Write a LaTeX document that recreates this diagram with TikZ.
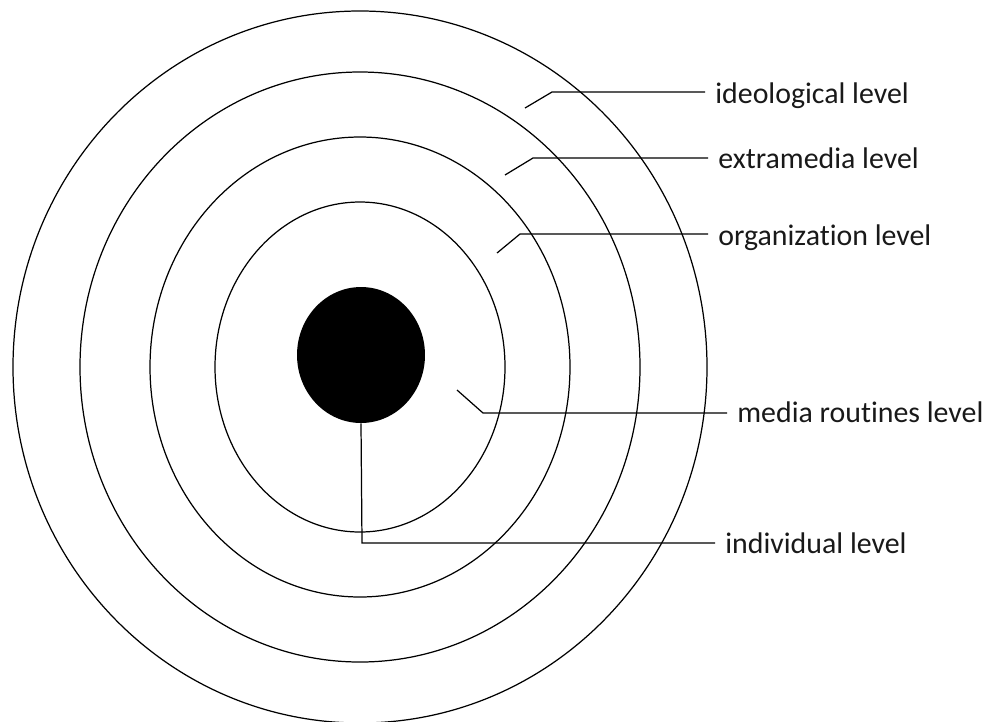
\documentclass[tikz,border=0pt]{standalone}
\usepackage{fontspec}
\setmainfont{Carlito}[Ligatures=NoCommon]
\usetikzlibrary{positioning, calc, shapes.geometric}
\definecolor{labelgray}{RGB}{25,25,25}

\begin{document}
\begin{tikzpicture}[x=0.02cm, y=-0.02cm,
  ring/.style={line width=0.7pt},
  leader/.style={line width=0.7pt},
  levellabel/.style={anchor=base west, inner xsep=0.2cm, inner ysep=0pt,
      font=\fontsize{17}{20}\selectfont, text=labelgray}]
\useasboundingbox (0,0) rectangle (1000,721);

% rings of influence
\coordinate (c) at (360,367);
\foreach \rx/\ry in {347/356, 280/295, 210/230, 145/165}
  \draw[ring] (c) ellipse [x radius=\rx, y radius=\ry];
\node[ellipse, fill=black, inner sep=0pt, minimum width=2.56cm, minimum height=2.72cm] (core) at (361,355) {};

% labels
\node[levellabel] (ideo) at (705,103) {ideological level};
\node[levellabel] (extra) at (708,168) {extramedia level};
\node[levellabel] (org) at (708,245) {organization level};
\node[levellabel] (routines) at (727,422) {media routines level};
\node[levellabel] (indiv) at (715,553) {individual level};

% leaders
\coordinate (ideo-s) at (525,108);   \coordinate (ideo-b) at (552,92);
\coordinate (extra-s) at (505,175);  \coordinate (extra-b) at (533,158);
\coordinate (org-s) at (497,253);    \coordinate (org-b) at (520,234);
\coordinate (routines-s) at (457,390); \coordinate (routines-b) at (483,413);
\coordinate (indiv-b) at (362,543);
\draw[leader] (ideo-s) -- (ideo-b) -- (ideo-b -| ideo.west);
\draw[leader] (extra-s) -- (extra-b) -- (extra-b -| extra.west);
\draw[leader] (org-s) -- (org-b) -- (org-b -| org.west);
\draw[leader] (routines-s) -- (routines-b) -- (routines-b -| routines.west);
\draw[leader] (core.south) -- (indiv-b) -- (indiv-b -| indiv.west);
\end{tikzpicture}
\end{document}
